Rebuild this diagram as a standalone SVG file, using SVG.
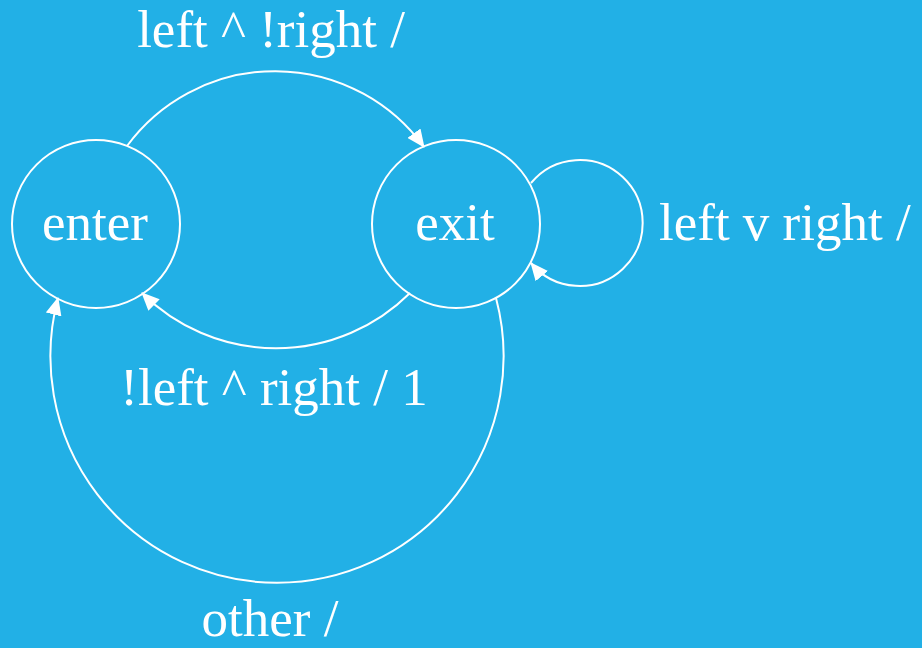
<svg xmlns="http://www.w3.org/2000/svg" width="922" height="648" viewBox="0 0 922 648">
<style>
.node{fill:none;stroke:#ffffff;stroke-width:2}
.edge{fill:none;stroke:#ffffff;stroke-width:2;marker-end:url(#arr)}
text{font-family:"Liberation Serif","Times New Roman",serif;font-size:53px;fill:#ffffff}
.c{text-anchor:middle}
</style>
<defs>
<marker id="arr" viewBox="0 0 18 16" refX="17" refY="8" markerWidth="18" markerHeight="16" markerUnits="userSpaceOnUse" orient="auto">
<path d="M0,0 L18,8 L0,16 z" fill="#ffffff"/>
</marker>
</defs>
<rect width="922" height="648" fill="#22b0e6"/>
<g id="connectors">
<path class="edge" d="M127,146 A184 184 0 0 1 424,147"/>
<path class="edge" d="M410,293 A190 190 0 0 1 142,293"/>
<path class="edge" d="M496,298 A226.6 226.6 0 1 1 58,298"/>
<path class="edge" d="M531,183 A63 63 0 1 1 531,263"/>
</g>
<g id="enter"><circle class="node" cx="96" cy="224" r="84"/><text class="c" x="95" y="240">enter</text></g>
<g id="exit"><circle class="node" cx="456" cy="224" r="84"/><text class="c" x="455" y="240">exit</text></g>
<g id="labels">
<text class="c" x="271" y="47">left ^ !right /</text>
<text x="659" y="240">left v right /</text>
<text class="c" x="274" y="405">!left ^ right / 1</text>
<text class="c" x="270" y="636">other /</text>
</g>
</svg>
